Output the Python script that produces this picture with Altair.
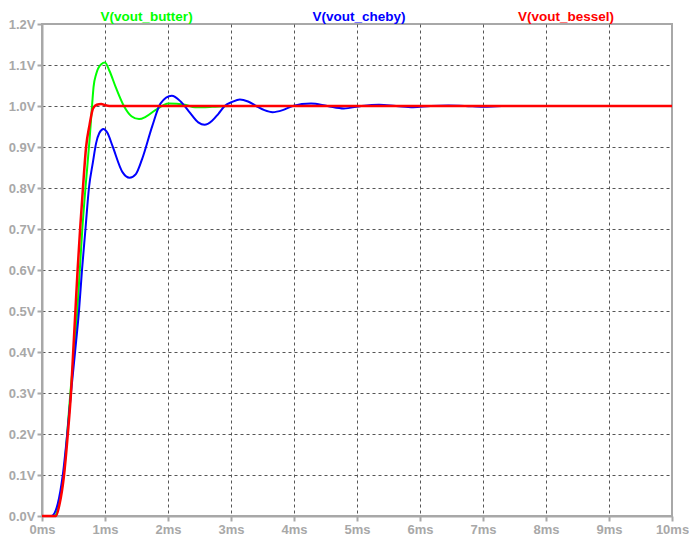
import altair as alt
import pandas as pd

# ---- data (time in ms, voltage in V) ----
butter_t = [0, 0.2, 0.27, 0.345, 0.40, 0.45, 0.51, 0.56, 0.60, 0.64, 0.69, 0.755, 0.797, 0.818, 0.86,
            0.94, 1.0, 1.07, 1.17, 1.30, 1.42, 1.54, 1.65, 1.80, 2.01, 2.27, 2.43, 2.7, 3.0, 10]
butter_v = [0, 0, 0.03, 0.1, 0.2, 0.3, 0.4, 0.5, 0.6, 0.7, 0.8, 0.918, 1.006, 1.046, 1.078,
            1.102, 1.106, 1.086, 1.046, 1.0, 0.975, 0.968, 0.974, 0.99, 1.006, 1.003, 0.997, 0.998, 1.0, 1.0]

cheby_t = [0, 0.15, 0.25, 0.33, 0.40, 0.46, 0.525, 0.587, 0.635, 0.69, 0.745, 0.807, 0.86, 0.91,
           0.975, 1.04, 1.12, 1.28, 1.39, 1.49, 1.59, 1.75, 1.88, 2.06, 2.20, 2.33, 2.48, 2.58, 2.70,
           2.80, 2.90, 3.02, 3.14, 3.27, 3.40, 3.53, 3.66, 3.82, 3.98, 4.27, 4.53, 4.79, 5.07, 5.35,
           5.62, 5.89, 6.17, 6.45, 6.72, 7.0, 7.3, 10]
cheby_v = [0, 0, 0.03, 0.1, 0.2, 0.3, 0.4, 0.5, 0.6, 0.7, 0.8, 0.862, 0.910, 0.934,
           0.944, 0.934, 0.902, 0.838, 0.825, 0.834, 0.871, 0.951, 1.006, 1.025, 1.011, 0.987, 0.960, 0.954, 0.964,
           0.981, 1.0, 1.01, 1.016, 1.011, 1.0, 0.99, 0.985, 0.99, 1.0, 1.006, 1.0, 0.994, 1.0, 1.003,
           1.0, 0.997, 1.0, 1.001, 1.0, 0.998, 1.0, 1.0]

bessel_t = [0, 0.22, 0.28, 0.35, 0.41, 0.46, 0.495, 0.53, 0.565, 0.605, 0.65, 0.70, 0.755, 0.81, 0.87,
            0.94, 1.0, 1.07, 10]
bessel_v = [0, 0, 0.03, 0.1, 0.2, 0.3, 0.4, 0.5, 0.6, 0.7, 0.8, 0.9, 0.954, 0.994, 1.003,
            1.005, 1.002, 1.0, 1.0]

series_names = ["V(vout_butter)", "V(vout_cheby)", "V(vout_bessel)"]
series_colors = ["#00ff00", "#0000ff", "#ff0000"]
series_widths = [2, 2, 2.5]
label_px = [104.5, 317, 524]  # legend-text centres, px from plot left

x_ticks = list(range(0, 11))
y_ticks = [round(0.1 * i, 1) for i in range(0, 13)]

rows = []
for name, ts, vs in [(series_names[0], butter_t, butter_v),
                     (series_names[1], cheby_t, cheby_v),
                     (series_names[2], bessel_t, bessel_v)]:
    for t, v in zip(ts, vs):
        rows.append({"t": t, "v": v, "series": name})
df = pd.DataFrame(rows)

AX = "#a8a8a8"
FONT = "Liberation Sans"

x_enc = alt.X("t:Q", scale=alt.Scale(domain=[0, 10], nice=False, zero=False),
              axis=alt.Axis(values=x_ticks, labelExpr="datum.value + 'ms'", title=None,
                            gridOpacity={"condition": {"test": "datum.value <= 0 || datum.value >= 10", "value": 0}, "value": 1},
                            labelPadding=2, tickSize=5, labelFlush=False))
y_enc = alt.Y("v:Q", scale=alt.Scale(domain=[0, 1.2], nice=False, zero=False),
              axis=alt.Axis(values=y_ticks, labelExpr="format(datum.value, '.1f') + 'V'", title=None,
                            gridOpacity={"condition": {"test": "datum.value <= 0.001 || datum.value >= 1.199", "value": 0}, "value": 1},
                            labelPadding=2, tickSize=5))

layers = []
for i, name in enumerate(series_names):
    layers.append(
        alt.Chart(df[df["series"] == name]).mark_line(
            color=series_colors[i], strokeWidth=series_widths[i], interpolate="monotone"
        ).encode(x=x_enc, y=y_enc, order="t:Q")
    )

for i, name in enumerate(series_names):
    layers.append(
        alt.Chart(pd.DataFrame({"label": [name]})).mark_text(
            font=FONT, fontSize=13.5, fontWeight="bold", color=series_colors[i],
            align="center", baseline="alphabetic"
        ).encode(text="label:N", x=alt.value(label_px[i]), y=alt.value(-3.5))
    )

chart = alt.layer(*layers).properties(
    width=630, height=492,
    autosize=alt.AutoSizeParams(type="none"),
    padding={"left": 34, "top": 16, "right": 17, "bottom": 21},
    background="white",
).configure_view(
    stroke=AX, strokeWidth=2
).configure_axis(
    domainColor=AX, domainWidth=2, tickColor=AX, tickWidth=2,
    labelColor=AX, labelFont=FONT, labelFontWeight="bold", labelFontSize=13,
    grid=True, gridColor="#555555", gridDash=[3, 3], gridWidth=1,
)

chart.save("out.html", embed_options={"renderer": "svg", "actions": False})
